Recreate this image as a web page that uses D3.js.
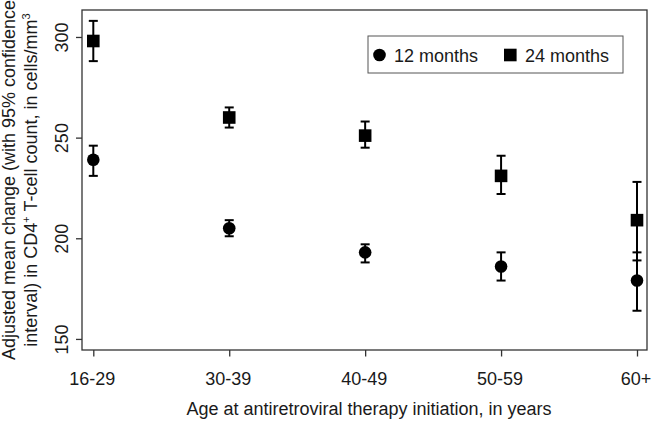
<!DOCTYPE html>
<html>
<head>
<meta charset="utf-8">
<script src="https://cdn.jsdelivr.net/npm/d3@7"></script>
<style>
  body { margin: 0; background: #fff; }
  svg { font-family: "Liberation Sans", Arial, sans-serif; }
</style>
</head>
<body>
<div id="chart"></div>
<script>
// age groups on the x axis
const ageGroups = ["16-29", "30-39", "40-49", "50-59", "60+"];

// 12 months: mean and 95% CI
const mean12 = [239, 205, 193, 186, 179];
const low12 = [231, 201, 188, 179, 164];
const high12 = [246, 209, 197, 193, 193];

// 24 months: mean and 95% CI
const mean24 = [298, 260, 251, 231, 209];
const low24 = [288, 255, 245, 222, 189];
const high24 = [308, 265, 258, 241, 228];

const yTicks = [150, 200, 250, 300];

const margin = { top: 10, right: 13, bottom: 71, left: 82 },
    width = 660 - margin.left - margin.right,
    height = 421 - margin.top - margin.bottom;

const svg = d3.select("#chart")
    .append("svg")
    .attr("width", width + margin.left + margin.right)
    .attr("height", height + margin.top + margin.bottom)
    .append("g")
    .attr("transform", "translate(" + margin.left + "," + margin.top + ")");

// x scale: point positions for each age group
const x = d3.scalePoint()
    .domain(ageGroups)
    .range([11.3, 555]);

const y = d3.scaleLinear()
    .domain([144.5, 313.4])
    .range([height, 0]);

// frame
svg.append("rect")
    .attr("width", width)
    .attr("height", height)
    .attr("fill", "none")
    .attr("stroke", "#333")
    .attr("stroke-width", 1.3);

// X axis
const xAxis = svg.append("g")
    .attr("transform", "translate(0," + height + ")")
    .call(d3.axisBottom(x).tickSize(6.5).tickPadding(0));
xAxis.select(".domain").remove();
xAxis.selectAll("line").attr("stroke", "#333").attr("stroke-width", 1.3);
xAxis.selectAll("text")
    .attr("y", 35)
    .attr("dy", 0)
    .attr("dx", -1.5)
    .style("font-size", "18px")
    .attr("fill", "#1a1a1a")
    .style("font-family", "Liberation Sans, Arial, sans-serif");

// Y axis
const yAxis = svg.append("g")
    .call(d3.axisLeft(y).tickValues(yTicks).tickSize(6).tickPadding(0));
yAxis.select(".domain").remove();
yAxis.selectAll("line").attr("stroke", "#333").attr("stroke-width", 1.3);
yAxis.selectAll("text")
    .attr("x", 0)
    .attr("dy", 0)
    .attr("transform", "translate(-14.5,0) rotate(-90)")
    .style("text-anchor", "middle")
    .style("font-size", "18px")
    .attr("fill", "#1a1a1a")
    .style("font-family", "Liberation Sans, Arial, sans-serif");

// error bars + markers
function drawSeries(means, lows, highs, shape) {
    const g = svg.append("g");
    const capW = 4.5;
    ageGroups.forEach(function (a, i) {
        const cx = x(a);
        g.append("line")
            .attr("x1", cx).attr("x2", cx)
            .attr("y1", y(lows[i])).attr("y2", y(highs[i]))
            .attr("stroke", "#000").attr("stroke-width", 2);
        [lows[i], highs[i]].forEach(function (v) {
            g.append("line")
                .attr("x1", cx - capW).attr("x2", cx + capW)
                .attr("y1", y(v)).attr("y2", y(v))
                .attr("stroke", "#000").attr("stroke-width", 2);
        });
        if (shape === "circle") {
            g.append("circle")
                .attr("cx", cx).attr("cy", y(means[i]))
                .attr("r", 6.3).attr("fill", "#000");
        } else {
            g.append("rect")
                .attr("x", cx - 6.3).attr("y", y(means[i]) - 6.3)
                .attr("width", 12.6).attr("height", 12.6)
                .attr("fill", "#000");
        }
    });
}
drawSeries(mean24, low24, high24, "square");
drawSeries(mean12, low12, high12, "circle");

// legend
const legend = svg.append("g").attr("transform", "translate(286,26)");
legend.append("rect")
    .attr("width", 255).attr("height", 37)
    .attr("fill", "#fff").attr("stroke", "#555").attr("stroke-width", 1);
legend.append("circle").attr("cx", 11.5).attr("cy", 19).attr("r", 6.3).attr("fill", "#000");
legend.append("text").attr("x", 26).attr("y", 25.5).style("font-size", "18px").attr("fill", "#1a1a1a").text("12 months");
legend.append("rect").attr("x", 136).attr("y", 12.7).attr("width", 12.6).attr("height", 12.6).attr("fill", "#000");
legend.append("text").attr("x", 157).attr("y", 25.5).style("font-size", "18px").attr("fill", "#1a1a1a").text("24 months");

// x-axis label
svg.append("text")
    .attr("x", 369 - margin.left)
    .attr("y", 415 - margin.top)
    .style("font-size", "18px")
    .style("text-anchor", "middle")
    .attr("fill", "#1a1a1a")
    .text("Age at antiretroviral therapy initiation, in years");

// y-axis label (two lines)
const yl = svg.append("text")
    .attr("transform", "translate(" + (-margin.left + 15) + "," + (height / 2) + ") rotate(-90)")
    .style("font-size", "18px")
    .style("text-anchor", "middle")
    .attr("fill", "#1a1a1a");
yl.append("tspan").attr("x", 0).attr("y", 0).text("Adjusted mean change (with 95% confidence");
const l2 = yl.append("tspan").attr("x", 0).attr("y", 21.5);
l2.append("tspan").text("interval) in CD4");
l2.append("tspan").attr("dy", -7).style("font-size", "11px").text("+");
l2.append("tspan").attr("dy", 7).text(" T-cell count, in cells/mm");
l2.append("tspan").attr("dy", -7).style("font-size", "11px").text("3");
</script>
</body>
</html>
